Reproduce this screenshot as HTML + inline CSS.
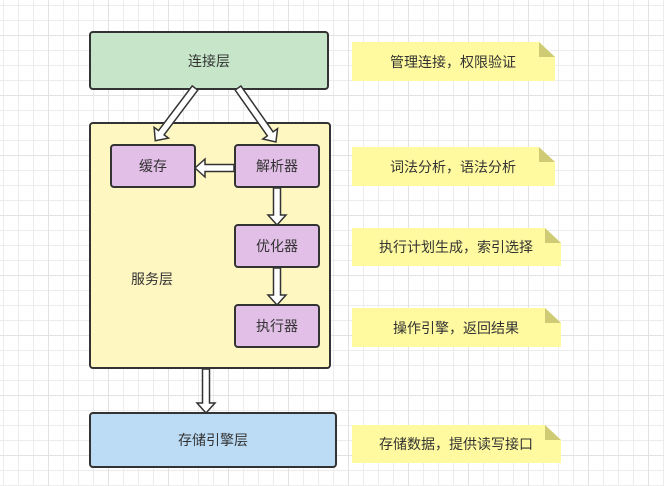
<!DOCTYPE html>
<html><head><meta charset="utf-8"><style>
body{margin:0;width:664px;height:486px;overflow:hidden;background:#fff;}
svg{display:block}
text{font-family:"Liberation Sans","Noto Sans CJK SC",sans-serif;font-size:14px;fill:#333;}
</style></head><body>
<svg width="664" height="486" xmlns="http://www.w3.org/2000/svg">
<defs>
<pattern id="g" x="3" y="5" width="15" height="15" patternUnits="userSpaceOnUse">
<path d="M0 0.5H15M0.5 0V15" stroke="#ececec" stroke-width="1" fill="none"/>
</pattern>
<pattern id="G" x="48" y="35" width="60" height="60" patternUnits="userSpaceOnUse">
<path d="M0 0.5H60M0.5 0V60" stroke="#e2e2e2" stroke-width="1" fill="none"/>
</pattern>
</defs>
<rect width="664" height="486" fill="url(#g)"/>
<rect width="664" height="486" fill="url(#G)"/>

<g stroke="#333" stroke-width="2">
<rect x="90" y="32" width="238" height="57" rx="3" fill="#c6e5c9"/>
<rect x="90" y="123" width="240" height="245" rx="3" fill="#fff7c2"/>
<rect x="111" y="145" width="84" height="42" rx="3" fill="#e1bfe6"/>
<rect x="235" y="145" width="84" height="42" rx="3" fill="#e1bfe6"/>
<rect x="235" y="225" width="84" height="42" rx="3" fill="#e1bfe6"/>
<rect x="235" y="305" width="84" height="42" rx="3" fill="#e1bfe6"/>
<rect x="90" y="413" width="246" height="54" rx="3" fill="#bcdcf5"/>
</g>

<g fill="#fff" stroke="#333" stroke-width="1.5" stroke-linejoin="miter">
<g transform="translate(195,88) rotate(127)"><polygon points="0,-3.5 56,-3.5 56,-9 66,0 56,9 56,3.5 0,3.5"/></g>
<g transform="translate(238,88) rotate(54.9)"><polygon points="0,-3.5 56,-3.5 56,-9 66,0 56,9 56,3.5 0,3.5"/></g>
<g transform="translate(234,168) rotate(180)"><polygon points="0,-3.5 29,-3.5 29,-9 39,0 29,9 29,3.5 0,3.5"/></g>
<g transform="translate(277,188) rotate(90)"><polygon points="0,-3.5 27,-3.5 27,-9 37,0 27,9 27,3.5 0,3.5"/></g>
<g transform="translate(277,268) rotate(90)"><polygon points="0,-3.5 27,-3.5 27,-9 37,0 27,9 27,3.5 0,3.5"/></g>
<g transform="translate(206,369) rotate(90)"><polygon points="0,-3.5 34,-3.5 34,-9 44,0 34,9 34,3.5 0,3.5"/></g>
</g>

<g text-anchor="middle">
<text x="209" y="66">连接层</text>
<text x="153" y="171">缓存</text>
<text x="277" y="171">解析器</text>
<text x="277" y="251">优化器</text>
<text x="277" y="331">执行器</text>
<text x="152" y="284">服务层</text>
<text x="213" y="445">存储引擎层</text>
</g>

<g>
<polygon points="352,42 539,42 555,57 555,81 352,81" fill="#fffa9f"/>
<polygon points="539,42 555,57 539,57" fill="#cfcb75"/>
<polygon points="352,147 539,147 555,162 555,186 352,186" fill="#fffa9f"/>
<polygon points="539,147 555,162 539,162" fill="#cfcb75"/>
<polygon points="352,228 545,228 561,243 561,266 352,266" fill="#fffa9f"/>
<polygon points="545,228 561,243 545,243" fill="#cfcb75"/>
<polygon points="352,308 545,308 561,323 561,347 352,347" fill="#fffa9f"/>
<polygon points="545,308 561,323 545,323" fill="#cfcb75"/>
<polygon points="352,425 545,425 561,440 561,463 352,463" fill="#fffa9f"/>
<polygon points="545,425 561,440 545,440" fill="#cfcb75"/>
</g>
<g text-anchor="middle">
<text x="453" y="67">管理连接，权限验证</text>
<text x="453" y="172">词法分析，语法分析</text>
<text x="456" y="252">执行计划生成，索引选择</text>
<text x="456" y="333">操作引擎，返回结果</text>
<text x="456" y="449">存储数据，提供读写接口</text>
</g>
</svg>
</body></html>
